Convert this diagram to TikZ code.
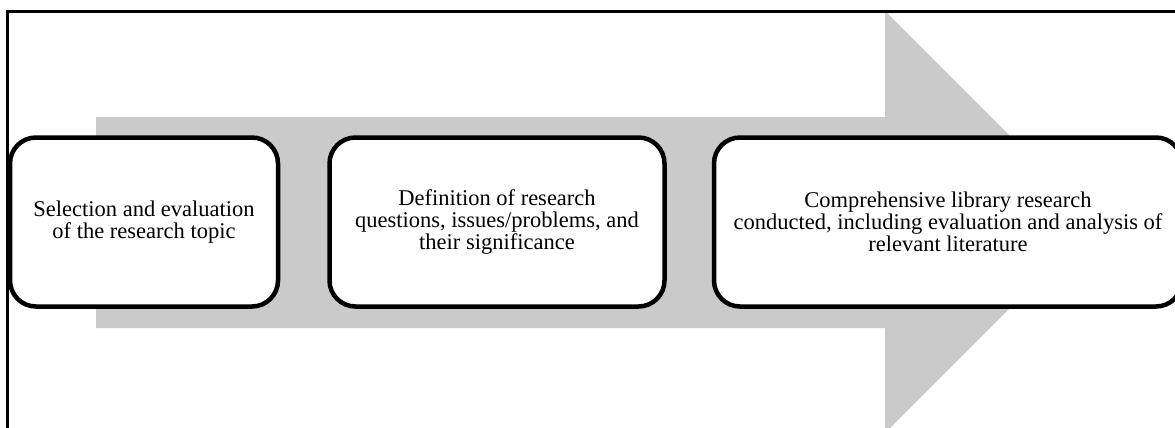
\documentclass[tikz,border=0pt]{standalone}
\usepackage{fontspec}
\setmainfont{Liberation Serif}
\definecolor{arrowgray}{RGB}{202,202,202}
\begin{document}
\begin{tikzpicture}[x=1pt,y=-1pt,
  stepbox/.style={draw, line width=4.5pt, rounded corners=26pt, fill=white,
    inner sep=0pt, minimum height=169pt, align=center,
    font=\fontsize{22.5}{22}\selectfont}]
\useasboundingbox (0,0) rectangle (1175,428);
\clip (0,0) rectangle (1175,428);
% big arrow behind the steps
\fill[arrowgray] (96,117) -- (885,117) -- (885,11) -- (1096,222)
  -- (885,433) -- (885,328) -- (96,328) -- cycle;
% frame
\draw[line width=2.5pt] (7.5,11.5) rectangle (1190,440);
% steps
\node[stepbox, minimum width=268pt] (sel) at (144,222)
  {Selection and evaluation\\of the research topic};
\node[stepbox, minimum width=335pt] (def) at (497,222)
  {Definition of research\\questions, issues/problems, and\\their significance};
\node[stepbox, minimum width=468pt] (lib) at (948,222)
  {Comprehensive library research\\conducted, including evaluation and analysis of\\relevant literature};
\end{tikzpicture}
\end{document}
